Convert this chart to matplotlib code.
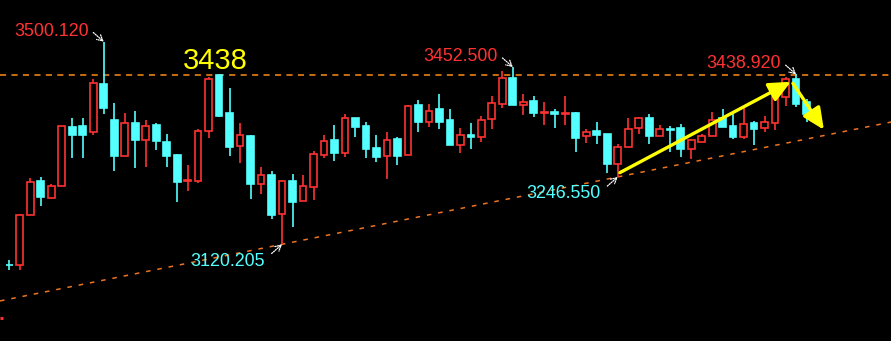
import matplotlib

matplotlib.use("Agg")

import matplotlib.pyplot as plt
from matplotlib.patches import Rectangle

# daily candles, oldest first
opens = [
    3081.8, 3082.0, 3175.7, 3238.9, 3207.6, 3230.1, 3340.2, 3342.1, 3331.4, 3420.8,
    3353.3, 3286.4, 3347.7, 3316.4, 3343.9, 3312.1, 3288.3, 3238.0, 3239.5, 3333.2,
    3437.5, 3365.9, 3304.0, 3323.9, 3233.9, 3250.2, 3176.5, 3238.9, 3202.0, 3228.3,
    3288.3, 3315.8, 3292.0, 3357.1, 3342.1, 3300.2, 3286.4, 3317.7, 3288.3, 3381.4,
    3350.1, 3373.9, 3353.3, 3307.0, 3325.2, 3322.0, 3355.8, 3383.9, 3432.1, 3382.0,
    3388.9, 3367.0, 3368.3, 3364.0, 3366.4, 3322.7, 3332.1, 3327.1, 3271.4, 3302.1,
    3337.7, 3356.5, 3323.9, 3336.0, 3338.3, 3299.5, 3311.5, 3322.7, 3356.5, 3342.1,
    3322.0, 3347.1, 3337.7, 3348.2, 3395.9, 3429.6, 3387.1, 3368.3,
]
highs = [
    3090.2, 3176.5, 3244.0, 3246.4, 3233.3, 3341.5, 3357.1, 3357.1, 3430.2, 3500.12,
    3385.2, 3366.4, 3370.2, 3352.7, 3347.7, 3327.1, 3290.1, 3268.9, 3336.4, 3433.9,
    3438.0, 3413.9, 3347.7, 3325.7, 3265.2, 3257.7, 3240.8, 3252.1, 3250.2, 3295.2,
    3325.2, 3343.9, 3364.0, 3357.1, 3349.0, 3325.2, 3330.8, 3321.4, 3381.4, 3390.8,
    3383.3, 3402.1, 3373.9, 3338.3, 3347.7, 3360.8, 3398.3, 3445.2, 3452.5, 3402.1,
    3398.3, 3387.1, 3373.9, 3398.3, 3368.3, 3335.8, 3349.6, 3327.1, 3308.9, 3357.1,
    3358.9, 3364.6, 3343.9, 3342.6, 3345.8, 3318.2, 3327.6, 3367.7, 3373.9, 3364.6,
    3375.8, 3350.9, 3360.8, 3400.2, 3433.9, 3438.92, 3392.7, 3372.1,
]
lows = [
    3071.5, 3071.5, 3175.7, 3192.1, 3207.6, 3230.1, 3282.1, 3282.1, 3325.7, 3365.1,
    3258.2, 3286.4, 3263.9, 3265.7, 3297.0, 3265.7, 3200.1, 3220.7, 3235.8, 3320.1,
    3358.4, 3286.4, 3273.2, 3205.7, 3215.1, 3167.1, 3120.205, 3153.2, 3202.0, 3203.9,
    3282.6, 3276.4, 3284.5, 3322.0, 3282.6, 3275.1, 3243.2, 3269.5, 3288.3, 3331.4,
    3340.7, 3336.4, 3307.0, 3292.0, 3299.5, 3312.6, 3337.0, 3376.4, 3382.0, 3362.7,
    3358.9, 3343.9, 3338.9, 3343.9, 3293.9, 3310.8, 3308.9, 3254.5, 3246.55, 3302.1,
    3326.5, 3308.9, 3323.9, 3293.9, 3284.5, 3280.7, 3311.5, 3322.7, 3340.7, 3318.2,
    3318.2, 3307.0, 3330.2, 3335.1, 3380.1, 3378.2, 3349.6, 3364.6,
]
closes = [
    3080.8, 3174.6, 3237.1, 3208.9, 3229.6, 3341.5, 3325.2, 3325.2, 3422.1, 3375.8,
    3286.4, 3347.1, 3316.4, 3342.1, 3313.9, 3286.4, 3237.1, 3240.0, 3332.1, 3430.2,
    3360.8, 3303.2, 3325.2, 3233.9, 3250.2, 3175.2, 3238.9, 3200.1, 3229.0, 3289.0,
    3313.4, 3292.0, 3357.1, 3340.7, 3299.5, 3284.5, 3315.2, 3286.4, 3379.6, 3349.6,
    3369.6, 3349.6, 3307.0, 3325.2, 3320.9, 3352.7, 3384.6, 3431.5, 3382.0, 3386.5,
    3367.0, 3369.0, 3364.6, 3366.0, 3320.1, 3330.2, 3325.7, 3271.4, 3302.1, 3335.8,
    3356.5, 3323.9, 3335.8, 3334.0, 3299.5, 3315.2, 3322.7, 3352.7, 3340.7, 3322.0,
    3345.2, 3337.0, 3349.0, 3395.9, 3429.6, 3383.3, 3364.6, 3364.6,
]

# marked extremes: (candle index, price, colour)
marks = [
    (9, 3500.120, "#ff3232", "above"),
    (48, 3452.500, "#ff3232", "above"),
    (75, 3438.920, "#ff3232", "above"),
    (26, 3120.205, "#54ffff", "below"),
    (58, 3246.550, "#54ffff", "below"),
]
resistance = 3438
support_points = [(26, 3120.205), (58, 3246.55)]
arrow_up = [(58.2, 3254.5), (74.5, 3425.0)]
arrow_down = [(74.7, 3422.0), (77.65, 3335.0)]

UP = "#ff3232"
DOWN = "#54ffff"
BODY_W = 0.64

fig = plt.figure(figsize=(8.91, 3.41), dpi=100, facecolor="black")
ax = fig.add_axes([0, 0, 1, 1])
ax.set_facecolor("black")
ax.set_xlim(-0.887, 84.05)
ax.set_ylim(2938.9, 3578.3)
ax.axis("off")

# support / resistance lines
ax.axhline(resistance, color="#ff8c1a", lw=1.1, dashes=(4, 3.5), zorder=1)
ax.axline(support_points[0], support_points[1], color="#ee7420", lw=1.1,
          dashes=(3, 4.5), zorder=1)

for i, (o, h, l, c) in enumerate(zip(opens, highs, lows, closes)):
    top, bottom = max(o, c), min(o, c)
    if c > o:
        ax.vlines(i, top, h, color=UP, lw=1.2, zorder=3)
        ax.vlines(i, l, bottom, color=UP, lw=1.2, zorder=3)
        ax.add_patch(Rectangle((i - BODY_W / 2, bottom), BODY_W, top - bottom,
                               facecolor="black", edgecolor=UP, lw=1.2, zorder=4))
    else:
        ax.vlines(i, l, h, color=DOWN, lw=1.2, zorder=3)
        ax.add_patch(Rectangle((i - BODY_W / 2, bottom), BODY_W, max(top - bottom, 0.5),
                               facecolor=DOWN, edgecolor=DOWN, lw=1.2, zorder=4))

# labelled extremes with small dotted pointers
for idx, price, color, side in marks:
    sign = 1 if side == "above" else -1
    text_dy = 4.2 if side == "above" else -15.5
    text_dx = -11.0 if side == "above" else -12.3
    ax.annotate(f"{price:.3f}", xy=(idx, price), xytext=(text_dx, text_dy),
                textcoords="offset points", ha="right", va="baseline",
                color=color, fontsize=12.9, family="Liberation Sans", zorder=6)
    ax.annotate("", xy=(idx, price), xytext=(-7.5, 6.6 * sign),
                textcoords="offset points",
                arrowprops=dict(arrowstyle="->,head_length=0.4,head_width=0.22",
                                color="white", lw=0.9, linestyle=(0, (1, 1)),
                                shrinkA=0, shrinkB=0), zorder=6)

ax.text(19.6, 3448, str(resistance), color="#ffff00", fontsize=21,
        family="Liberation Sans", ha="center", va="baseline", zorder=6)

for start, end in (arrow_up, arrow_down):
    ax.annotate("", xy=end, xytext=start,
                arrowprops=dict(arrowstyle="-|>,head_length=1.3,head_width=0.6",
                                color="#ffff00", lw=2.4, shrinkA=0, shrinkB=0),
                zorder=7)

# small price marker at the left edge
ax.hlines(2982, -0.887, -0.6, color=UP, lw=2.2)

fig.savefig("out.png", dpi=100, facecolor="black")
